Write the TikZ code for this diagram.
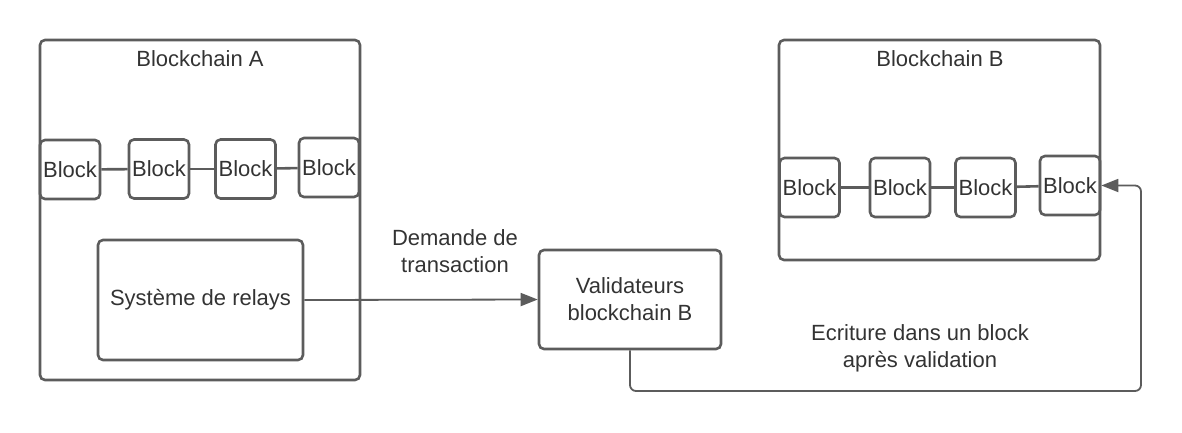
\documentclass[tikz,border=0pt]{standalone}
\usepackage{fontspec}
\setmainfont{Liberation Sans}
\usetikzlibrary{arrows.meta}

\begin{document}
\begin{tikzpicture}[x=1pt,y=-1pt,
  box/.style={draw=linegray,line width=2.6pt,rounded corners=5pt,inner sep=0pt,text=textgray,align=center,font=\fontsize{22}{27}\selectfont},
  blockbox/.style={box,minimum width=60pt,minimum height=59pt},
  label/.style={text=textgray,align=center,font=\fontsize{22}{27}\selectfont},
  link/.style={draw=linegray,line width=2.6pt},
  flow/.style={draw=linegray,line width=1.8pt,rounded corners=6pt,-{Triangle[length=17pt,width=13pt]}}]

\definecolor{linegray}{HTML}{5C5C5C}
\definecolor{textgray}{HTML}{333333}

\useasboundingbox (0,0) rectangle (1182,432);

% Blockchain A
\node[box,minimum width=320pt,minimum height=340pt] (chainA) at (200,210) {};

\node[label] (titleA) at (200,59) {Blockchain A};

\node[blockbox] (a1) at (70,169.5) {Block};
\node[blockbox] (a2) at (159,169) {Block};
\node[blockbox] (a3) at (245.5,169) {Block};
\node[blockbox] (a4) at (329,167.5) {Block};

\draw[link] (a1) -- (a2);
\draw[link] (a2) -- (a3);
\draw[link] (a3) -- (a4);

\node[box,minimum width=205pt,minimum height=120pt] (relay) at (200.5,300) {Système de relays};

% Validateurs
\node[box,minimum width=182pt,minimum height=99pt] (valid) at (630,299.5) {Validateurs\\blockchain B};

\node[label] (ask) at (455,251) {Demande de\\transaction};

\draw[flow] (relay.east) -- (valid.west);

% Blockchain B
\node[box,minimum width=321pt,minimum height=220pt] (chainB) at (939.5,150) {};

\node[label] (titleB) at (940,59) {Blockchain B};

\node[blockbox] (b1) at (809.5,187.5) {Block};
\node[blockbox] (b2) at (900,187.5) {Block};
\node[blockbox] (b3) at (985.5,187.5) {Block};
\node[blockbox] (b4) at (1070,185.5) {Block};

\draw[link] (b1) -- (b2);
\draw[link] (b2) -- (b3);
\draw[link] (b3) -- (b4);

\node[label] (write) at (920,348) {Ecriture dans un block\\après validation};

\coordinate (down) at (630,391);
\coordinate (corner) at (1141,391);
\coordinate (up) at (1141,185.5);

\draw[flow] (valid.south) -- (down) -- (corner) -- (up) -- (b4.east);

\end{tikzpicture}
\end{document}
